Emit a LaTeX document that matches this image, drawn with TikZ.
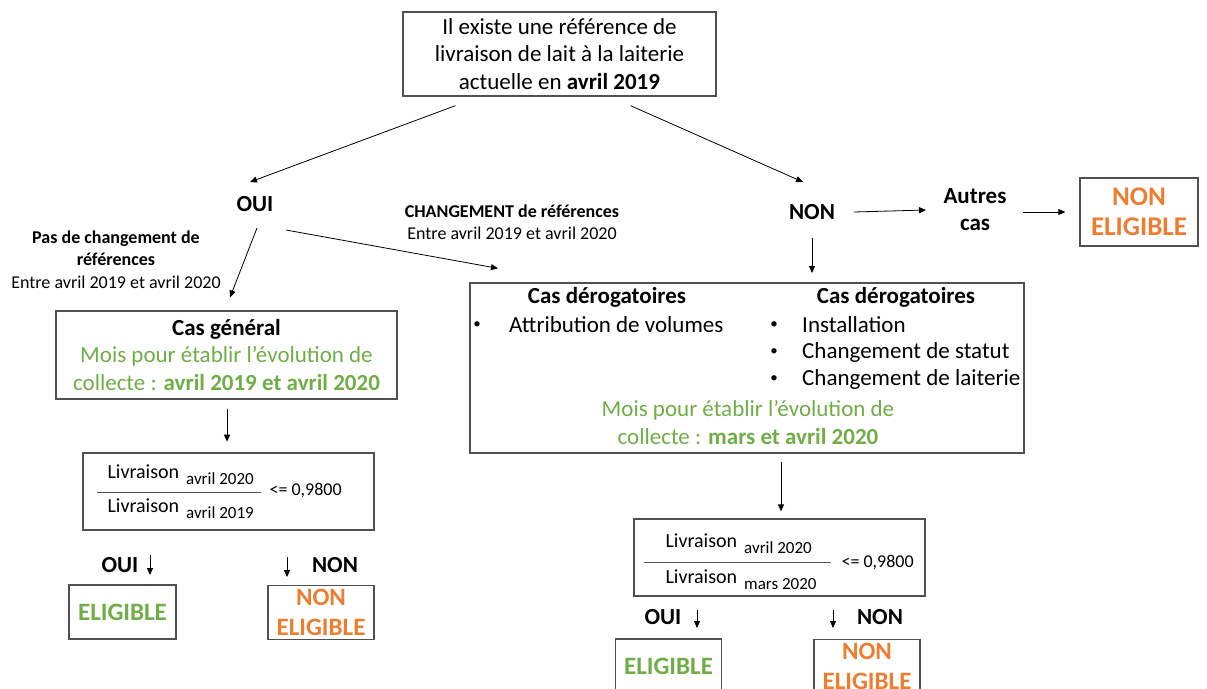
\documentclass[tikz,border=0pt]{standalone}
\usepackage{fontspec}
\setmainfont{Carlito}
\usetikzlibrary{arrows.meta}
\definecolor{vert}{HTML}{70AD47}
\definecolor{orangec}{HTML}{ED7D31}
\definecolor{bord}{HTML}{505050}
\newcommand\mysub[1]{{\fontsize{17}{20}\selectfont\raisebox{-6pt}{#1}}}
\begin{document}
\begin{tikzpicture}[x=1pt,y=-1pt,
  box/.style={draw=bord, line width=1.3pt, inner sep=0pt},
  arr/.style={-{Triangle[length=7pt,width=6pt]}, line width=0.8pt},
  lab/.style={font=\fontsize{23}{27}\selectfont\bfseries, inner sep=0pt},
  big/.style={font=\fontsize{23}{27.5}\selectfont, inner sep=0pt},
  bul/.style={font=\fontsize{15}{15}\selectfont, inner sep=0pt},
  small/.style={font=\fontsize{18}{22.5}\selectfont, inner sep=0pt},
  res/.style={font=\fontsize{25}{29.5}\selectfont\bfseries},
  resbig/.style={font=\fontsize{27}{30}\selectfont\bfseries},
  fr/.style={font=\fontsize{20}{24}\selectfont, inner sep=0pt},
  val/.style={font=\fontsize{18}{20}\selectfont, inner sep=0pt, anchor=west}]
\useasboundingbox (0,0) rectangle (1207,688);
\clip (0,0) rectangle (1207,688);

% top box
\node[box, minimum width=313pt, minimum height=84pt, big, align=center] (top) at (559.5,54)
  {Il existe une référence de\\livraison de lait à la laiterie\\actuelle en \textbf{avril 2019}};

\node[lab] (oui) at (255,204) {OUI};
\node[lab] (non) at (812,212) {NON};
\node[lab, align=center] (autres) at (975,210) {Autres\\cas};
\node[box, minimum width=118pt, minimum height=68pt, resbig, text=orangec, align=center] (ne0) at (1139,212) {NON\\ELIGIBLE};

\draw[arr] ([shift={(-104,9)}]top.south) -- ([shift={(-5,-22)}]oui.center);
\draw[arr] ([shift={(71,9)}]top.south) -- ([shift={(-9,-30)}]non.center);
\draw[arr] ([shift={(42,0)}]non.center) -- ([shift={(-49,0)}]autres.center);
\draw[arr] ([shift={(48,2)}]autres.center) -- ([shift={(-14,0)}]ne0.west);
\draw[arr] ([shift={(0,26)}]non.center) -- ([shift={(0,61)}]non.center);

% labels
\node[small, align=center] (pas) at (116,259.5) {\textbf{Pas de changement de}\\\textbf{références}\\Entre avril 2019 et avril 2020};
\node[small, align=center] (chg) at (512,222) {\textbf{CHANGEMENT de références}\\Entre avril 2019 et avril 2020};

% left branch
\node[box, minimum width=341pt, minimum height=88pt, big, align=center] (cg) at (226.5,355)
  {\textbf{Cas général}\\\textcolor{vert}{Mois pour établir l’évolution de}\\\textcolor{vert}{collecte : \textbf{avril 2019 et avril 2020}}};
\draw[arr] ([shift={(2,24)}]oui.center) -- ([shift={(3.5,-13)}]cg.north);
\draw[arr] ([shift={(0.5,9)}]cg.south) -- ([shift={(0.5,42)}]cg.south);

\node[box, minimum width=291pt, minimum height=77pt] (f1) at (228.5,491.5) {};
\draw[line width=0.9pt, bord] ([shift={(15,0.5)}]f1.west) -- ([shift={(179,0.5)}]f1.west);
\node[fr, anchor=base west] (num1) at ([shift={(25,-13.5)}]f1.west) {Livraison\hspace{7pt}\mysub{avril 2020}};
\node[fr, anchor=base west] (den1) at ([shift={(25,20.5)}]f1.west) {Livraison\hspace{7pt}\mysub{avril 2019}};
\node[val] (val1) at ([shift={(187,-1.5)}]f1.west) {<= 0,9800};

\node[lab] (oui1) at (120,565) {OUI};
\draw[arr] ([shift={(30,-10)}]oui1.center) -- ([shift={(30,10)}]oui1.center);
\node[lab] (non1) at (335,565) {NON};
\draw[arr] ([shift={(-48,-8)}]non1.center) -- ([shift={(-48,12)}]non1.center);

\node[box, minimum width=107pt, minimum height=54pt, res, text=vert] (e1) at (122.5,612) {ELIGIBLE};
\node[box, minimum width=106pt, minimum height=54pt, res, text=orangec, align=center] (n1) at (321,612.5) {NON\\ELIGIBLE};

% central branch
\node[box, minimum width=554pt, minimum height=170pt] (cd) at (747,368) {};
\draw[arr] ([shift={(31,26)}]oui.center) -- ([shift={(-249,-14)}]cd.north);

\node[big] (cdl) at (607,297) {\textbf{Cas dérogatoires}};
\node[bul] (b0) at (477,325) {\textbullet};
\node[big, anchor=west] (att) at (509,325) {Attribution de volumes};
\node[big] (cdr) at (896,297) {\textbf{Cas dérogatoires}};
\node[bul] (b1) at (774,325) {\textbullet};
\node[big, anchor=west] (ins) at (802,325) {Installation};
\node[bul] (b2) at (774,352) {\textbullet};
\node[big, anchor=west] (sta) at (802,352) {Changement de statut};
\node[bul] (b3) at (774,379) {\textbullet};
\node[big, anchor=west] (lai) at (802,379) {Changement de laiterie};
\node[big, align=center, text=vert] (mois2) at (748,422.5) {Mois pour établir l’évolution de\\collecte : \textbf{mars et avril 2020}};

\node[box, minimum width=291pt, minimum height=77pt] (f2) at (779.5,557.5) {};
\draw[arr] ([shift={(34,8)}]cd.south) -- ([shift={(1.5,-7)}]f2.north);
\draw[line width=0.9pt, bord] ([shift={(11,4.5)}]f2.west) -- ([shift={(198,4.5)}]f2.west);
\node[fr, anchor=base west] (num2) at ([shift={(32,-10.5)}]f2.west) {Livraison\hspace{7pt}\mysub{avril 2020}};
\node[fr, anchor=base west] (den2) at ([shift={(32,25.5)}]f2.west) {Livraison\hspace{7pt}\mysub{mars 2020}};
\node[val] (val2) at ([shift={(208,4.5)}]f2.west) {<= 0,9800};

\node[lab] (oui2) at (663,617) {OUI};
\draw[arr] ([shift={(34,-7)}]oui2.center) -- ([shift={(34,11)}]oui2.center);
\node[lab] (non2) at (880,617) {NON};
\draw[arr] ([shift={(-47,-7)}]non2.center) -- ([shift={(-47,11)}]non2.center);

\node[box, minimum width=106pt, minimum height=54pt, res, text=vert] (e2) at (668.5,666) {ELIGIBLE};
\node[box, minimum width=106pt, minimum height=54pt, res, text=orangec, align=center] (n2) at (867,666.5) {NON\\ELIGIBLE};
\end{tikzpicture}
\end{document}
